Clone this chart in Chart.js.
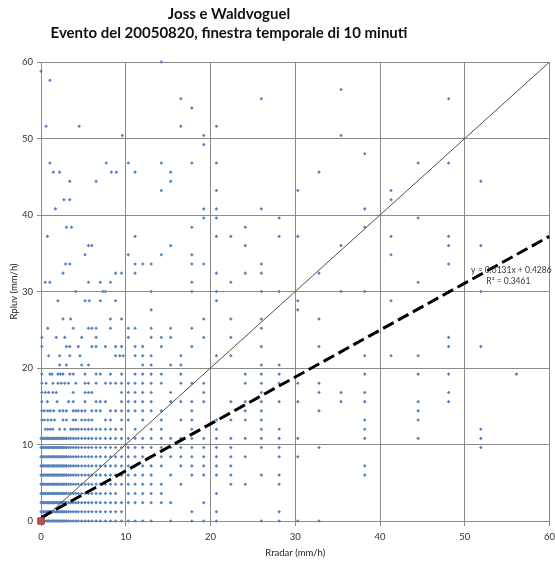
<!DOCTYPE html>
<html>
<head>
<meta charset="utf-8">
<script src="https://cdn.jsdelivr.net/npm/chart.js@4.4.0/dist/chart.umd.min.js"></script>
<style>
  html, body { margin: 0; padding: 0; background: #ffffff; }
  #wrap { width: 555px; height: 565px; position: relative; }
</style>
</head>
<body>
<div id="wrap"><canvas id="chart"></canvas></div>
<script>
// ---- text ----
const titleLines = ['Joss e Waldvoguel', 'Evento del 20050820, finestra temporale di 10 minuti'];
const xAxisTitle = 'Rradar (mm/h)';
const yAxisTitle = 'Rpluv (mm/h)';
const axisTicks = [0, 10, 20, 30, 40, 50, 60];

// ---- regression shown on the chart ----
const fitSlope = 0.6131;
const fitIntercept = 0.4286;
const fitR2 = 0.3461;

// ---- observations ----
// gauge rate levels (mm/h) and, for each level, the radar rates (mm/h) paired with it
const gaugeLevels = [
  0, 1.2, 2.4, 3.6, 4.8, 6.0, 7.2, 8.4, 9.6, 10.8,
  12.0, 13.2, 14.4, 15.6, 16.8, 18.0, 19.2, 20.4, 21.6, 22.8,
  24.0, 25.2, 26.4, 27.6, 28.8, 30.0, 31.2, 32.4, 33.6, 34.8,
  36.0, 37.2, 38.4, 39.6, 40.8, 42.0, 43.2, 44.4, 45.6, 46.8,
  48.0, 49.2, 50.4, 51.6, 54.0, 55.2, 56.4, 57.6, 58.8, 60.0
];

// the packed run of small radar rates present at every low gauge level
const lowRunLevels = [0, 1.2, 2.4, 3.6, 4.8, 6.0, 7.2, 8.4, 9.6, 10.8];
const lowRun = [0, 0.15, 0.3, 0.45, 0.6, 0.75, 0.9, 1.05, 1.2, 1.35, 1.5, 1.65, 1.8, 1.95,
                2.1, 2.25, 2.4, 2.55, 2.7, 2.85, 3.0, 3.25, 3.5];

const radarAtLevel = [
  /* 0.0 */  [3.8, 4.1, 4.4, 4.8, 5.2, 5.6, 6.0, 6.5, 7.0, 7.6, 8.2, 8.8, 9.5, 10.3, 11.1, 12.0, 13.0, 15.3, 17.8, 19.2, 20.7, 26.0, 28.1, 30.3, 32.8],
  /* 1.2 */  [3.8, 4.1, 4.4, 4.8, 5.2, 5.6, 6.0, 6.5, 7.0, 7.6, 8.2, 8.8, 9.5, 17.8, 20.7, 28.1],
  /* 2.4 */  [3.8, 4.1, 4.4, 4.8, 5.2, 5.6, 6.0, 6.5, 7.0, 7.6, 8.2, 8.8, 9.5, 10.3, 11.1, 12.0, 13.0, 14.2, 15.3, 19.2],
  /* 3.6 */  [3.8, 4.1, 4.4, 4.8, 5.2, 5.6, 6.0, 6.5, 7.0, 7.6, 8.2, 8.8, 10.3, 11.1, 12.0, 13.0, 14.2, 20.7],
  /* 4.8 */  [3.8, 4.1, 4.4, 4.8, 5.2, 5.6, 6.0, 6.5, 7.0, 7.6, 8.2, 8.8, 9.5, 10.3, 11.1, 12.0, 13.0, 14.2, 16.5, 22.4, 24.1, 28.1],
  /* 6.0 */  [3.8, 4.1, 4.4, 4.8, 5.2, 5.6, 6.0, 6.5, 7.0, 7.6, 8.2, 8.8, 9.5, 10.3, 11.1, 12.0, 13.0, 15.3, 17.8, 19.2, 20.7, 22.4, 26.0, 28.1, 38.2],
  /* 7.2 */  [3.8, 4.1, 4.4, 4.8, 5.2, 5.6, 6.0, 6.5, 7.0, 7.6, 8.2, 8.8, 9.5, 10.3, 11.1, 12.0, 13.0, 14.2, 16.5, 17.8, 19.2, 20.7, 22.4, 38.2],
  /* 8.4 */  [3.8, 4.1, 4.4, 4.8, 5.2, 5.6, 6.0, 6.5, 7.0, 7.6, 8.2, 8.8, 9.5, 10.3, 11.1, 12.0, 13.0, 14.2, 15.3, 16.5, 17.8, 19.2, 20.7, 22.4, 24.1, 28.1, 30.3],
  /* 9.6 */  [3.8, 4.1, 4.4, 4.8, 5.2, 5.6, 6.0, 6.5, 7.0, 7.6, 8.2, 8.8, 9.5, 10.3, 11.1, 12.0, 13.0, 14.2, 15.3, 16.5, 17.8, 19.2, 20.7, 22.4, 26.0, 28.1, 32.8, 51.9],
  /* 10.8 */ [3.8, 4.1, 4.4, 4.8, 5.2, 5.6, 6.0, 6.5, 7.0, 7.6, 8.2, 8.8, 9.5, 10.3, 11.1, 12.0, 13.0, 14.2, 15.3, 16.5, 17.8, 19.2, 20.7, 22.4, 24.1, 26.0, 28.1, 30.3, 38.2, 44.5, 51.9],
  /* 12.0 */ [0.5, 0.8, 1.1, 1.4, 2.2, 2.8, 3.5, 3.8, 4.1, 4.4, 4.8, 5.2, 5.6, 6.0, 6.5, 7.0, 7.6, 8.2, 8.8, 9.5, 11.1, 13.0, 14.2, 17.8, 20.7, 26.0, 28.1, 38.2, 51.9],
  /* 13.2 */ [0.1, 0.4, 0.8, 1.2, 1.6, 2.6, 3.0, 3.8, 4.1, 4.8, 5.2, 5.6, 6.0, 7.6, 8.2, 9.5, 10.3, 12.0, 14.2, 16.5, 17.8, 20.7, 22.4, 24.1, 26.0, 38.2, 44.5],
  /* 14.4 */ [0.1, 0.4, 0.8, 1.1, 1.5, 2.2, 2.6, 3.0, 3.8, 4.1, 4.4, 4.8, 5.2, 6.0, 6.5, 7.0, 8.2, 8.8, 9.5, 10.3, 11.1, 12.0, 13.0, 14.2, 17.8, 24.1, 26.0, 32.8, 44.5],
  /* 15.6 */ [0.1, 0.75, 1.9, 3.25, 3.8, 5.2, 6.5, 7.0, 7.6, 9.5, 10.3, 11.1, 12.0, 13.0, 15.3, 16.5, 17.8, 19.2, 22.4, 24.1, 26.0, 28.1, 30.3, 35.4, 38.2, 44.5, 48.1],
  /* 16.8 */ [0.1, 0.5, 0.9, 1.4, 1.8, 3.8, 5.2, 5.6, 6.0, 9.5, 10.3, 11.1, 12.0, 13.0, 15.3, 19.2, 26.0, 32.8, 35.4, 38.2, 48.1],
  /* 18.0 */ [0.1, 0.6, 1.4, 2.0, 2.4, 2.8, 3.25, 4.1, 5.2, 5.6, 6.5, 7.6, 8.2, 8.8, 9.5, 10.3, 11.1, 12.0, 13.0, 14.2, 16.5, 17.8, 19.2, 24.1, 26.0, 28.1, 30.3, 32.8],
  /* 19.2 */ [0.1, 1.05, 1.3, 2.0, 2.3, 2.6, 3.4, 3.8, 5.2, 6.5, 7.0, 8.2, 9.5, 11.1, 12.0, 13.0, 14.2, 16.5, 24.1, 26.0, 28.1, 38.2, 44.5, 48.1, 56.1],
  /* 20.4 */ [2.2, 3.0, 4.8, 5.6, 12.0, 13.0, 15.3, 16.5, 26.0, 28.1],
  /* 21.6 */ [0.9, 2.2, 3.4, 4.6, 8.8, 9.3, 9.7, 11.1, 12.0, 13.0, 16.5, 20.7, 22.4, 38.2, 41.3, 44.5],
  /* 22.8 */ [0.1, 3.0, 3.4, 4.4, 6.0, 6.5, 7.6, 8.8, 9.5, 11.1, 12.0, 14.2, 17.8, 26.0, 32.8, 48.1, 51.9],
  /* 24.0 */ [0.1, 1.8, 2.8, 4.8, 6.5, 10.3, 13.0, 14.2, 15.3, 19.2, 22.4, 48.1],
  /* 25.2 */ [0.8, 3.8, 5.6, 6.0, 6.5, 8.2, 10.3, 11.1, 13.0, 15.3, 17.8, 26.0],
  /* 26.4 */ [2.6, 3.5, 8.2, 9.5, 19.2, 22.4, 26.0, 32.8],
  /* 27.6 */ [13.0, 30.3],
  /* 28.8 */ [2.0, 5.2, 5.7, 7.0, 8.8, 20.7, 30.3, 41.3],
  /* 30.0 */ [4.1, 7.3, 7.6, 13.0, 17.8, 20.7, 26.0, 28.1, 35.4, 38.2, 48.1, 51.9],
  /* 31.2 */ [0.5, 1.05, 5.6, 7.0, 8.2, 17.8, 22.4, 44.5],
  /* 32.4 */ [2.6, 8.8, 9.5, 11.1, 20.7, 24.1, 26.0, 32.8],
  /* 33.6 */ [2.9, 3.4, 11.1, 12.0, 13.0, 17.8, 19.2, 26.0, 48.1],
  /* 34.8 */ [5.2, 10.3, 14.2, 17.8, 41.3],
  /* 36.0 */ [5.6, 6.0, 15.3, 24.1, 35.4, 48.1, 51.9],
  /* 37.2 */ [0.75, 11.1, 20.7, 22.4, 28.1, 30.3, 41.3, 48.1],
  /* 38.4 */ [3.0, 3.6, 17.8, 24.1, 38.2],
  /* 39.6 */ [19.2, 20.7, 28.1, 44.5],
  /* 40.8 */ [1.7, 19.2, 20.7, 26.0, 38.2],
  /* 42.0 */ [2.7, 3.4, 41.3],
  /* 43.2 */ [14.2, 20.7, 30.3, 41.3],
  /* 44.4 */ [3.4, 6.5, 15.3, 51.9],
  /* 45.6 */ [1.45, 2.2, 8.3, 8.9, 11.1, 15.3, 32.8],
  /* 46.8 */ [1.05, 7.7, 10.3, 14.2, 17.8, 20.7, 44.5, 48.1],
  /* 48.0 */ [38.2],
  /* 49.2 */ [19.2],
  /* 50.4 */ [9.6, 19.2, 35.4],
  /* 51.6 */ [0.6, 4.5, 16.5, 20.7],
  /* 54.0 */ [17.8],
  /* 55.2 */ [16.5, 26.0, 48.1],
  /* 56.4 */ [35.4],
  /* 57.6 */ [1.05],
  /* 58.8 */ [0],
  /* 60.0 */ [14.2]
];

// ---- build point list for the scatter ----
const observations = [];
gaugeLevels.forEach((g, i) => {
  if (lowRunLevels.includes(g)) lowRun.forEach(r => observations.push({ x: r, y: g }));
  radarAtLevel[i].forEach(r => observations.push({ x: r, y: g }));
});

const fontFamily = 'Lato, "DejaVu Sans", sans-serif';
const axisFont = { family: fontFamily, size: 9.5 };
const gridColor = '#8a8a8a';

// title block drawn above the plot
const headingPlugin = {
  id: 'heading',
  afterDraw(chart) {
    const ctx = chart.ctx;
    ctx.save();
    ctx.fillStyle = '#111111';
    ctx.textAlign = 'center';
    ctx.textBaseline = 'middle';
    ctx.font = 'bold 15px ' + fontFamily;
    ctx.fillText(titleLines[0], 229, 14);
    ctx.fillText(titleLines[1], 229, 33);
    ctx.restore();
  }
};

// regression equation placed beside the fitted line
const fitLabelPlugin = {
  id: 'fitLabel',
  afterDraw(chart) {
    const { ctx, scales: { x, y } } = chart;
    const px = x.getPixelForValue(55.5);
    const py = y.getPixelForValue(32.8);
    ctx.save();
    ctx.fillStyle = '#3a3a3a';
    ctx.textAlign = 'center';
    ctx.textBaseline = 'middle';
    ctx.font = '8.5px ' + fontFamily;
    ctx.fillText('y = ' + fitSlope.toFixed(4) + 'x + ' + fitIntercept.toFixed(4), px, py);
    ctx.fillText('R\u00B2 = ' + fitR2.toFixed(4), px - 3, py + 11);
    ctx.restore();
  }
};

new Chart(document.getElementById('chart'), {
  type: 'scatter',
  data: {
    datasets: [
      {
        label: 'origine',
        data: [{ x: 0, y: 0 }],
        pointStyle: 'rect',
        pointRadius: 4.5,
        backgroundColor: '#c0504d',
        borderColor: '#9a3b38',
        borderWidth: 1,
        clip: false,
        order: 0
      },
      {
        label: 'regressione',
        data: [{ x: 0, y: fitIntercept }, { x: 60, y: fitSlope * 60 + fitIntercept }],
        showLine: true,
        borderColor: '#000000',
        borderWidth: 3,
        borderDash: [12, 5],
        pointRadius: 0,
        order: 1
      },
      {
        label: 'bisettrice',
        data: [{ x: 0, y: 0 }, { x: 60, y: 60 }],
        showLine: true,
        borderColor: '#505050',
        borderWidth: 1,
        pointRadius: 0,
        order: 2
      },
      {
        label: 'Rpluv vs Rradar',
        data: observations,
        pointStyle: 'rectRot',
        pointRadius: 1.8,
        backgroundColor: '#5583bd',
        borderWidth: 0,
        clip: false,
        order: 5
      }
    ]
  },
  options: {
    responsive: true,
    maintainAspectRatio: false,
    animation: false,
    events: [],
    layout: { padding: { top: 62, left: 0, right: 0, bottom: 0 } },
    plugins: {
      legend: { display: false },
      title: { display: false },
      tooltip: { enabled: false }
    },
    scales: {
      x: {
        type: 'linear',
        min: 0, max: 60,
        afterBuildTicks: s => { s.ticks = axisTicks.map(v => ({ value: v })); },
        ticks: { font: axisFont, color: '#333333', padding: 5, maxRotation: 0, autoSkip: false },
        grid: { color: gridColor, lineWidth: 1, tickLength: 5 },
        border: { color: gridColor, width: 1 },
        title: {
          display: true, text: xAxisTitle, color: '#222222',
          font: { family: fontFamily, size: 9.5 },
          padding: { top: 0, bottom: 6 }
        },
        afterFit: s => { s.height = 44; s.paddingRight = 3; s.paddingLeft = 0; }
      },
      y: {
        type: 'linear',
        min: 0, max: 60,
        afterBuildTicks: s => { s.ticks = axisTicks.map(v => ({ value: v })); },
        ticks: { font: axisFont, color: '#333333', padding: 4 },
        grid: { color: gridColor, lineWidth: 1, tickLength: 4 },
        border: { color: gridColor, width: 1 },
        title: {
          display: true, text: yAxisTitle, color: '#222222',
          font: { family: fontFamily, size: 9.5 },
          padding: { top: 8, bottom: 0 }
        },
        afterFit: s => { s.width = 41; s.paddingTop = 0; s.paddingBottom = 0; }
      }
    }
  },
  plugins: [headingPlugin, fitLabelPlugin]
});
</script>
</body>
</html>
